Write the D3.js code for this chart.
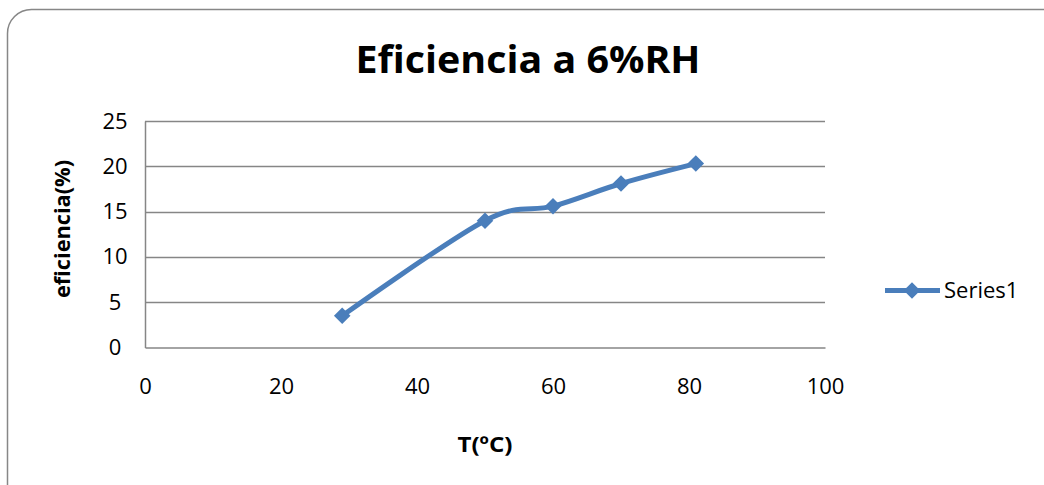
<!DOCTYPE html>
<html>
<head>
<meta charset="utf-8">
<script src="https://cdn.jsdelivr.net/npm/d3@7"></script>
<style>
  html, body { margin: 0; padding: 0; background: #fff; }
  svg { display: block; }
  text { font-family: "Open Sans", "Liberation Sans", sans-serif; fill: #000; }
</style>
</head>
<body>
<svg id="chart" width="1044" height="485"></svg>
<script>
// Efficiency vs temperature at 6% relative humidity
const temperatures = [29, 50, 60, 70, 81];
const efficiency = [3.5, 14, 15.6, 18.1, 20.3];
const xTicks = [0, 20, 40, 60, 80, 100];
const yTicks = [0, 5, 10, 15, 20, 25];
const seriesName = "Series1";
const titleText = "Eficiencia a 6%RH";
const xTitle = "T(ºC)";
const yTitle = "eficiencia(%)";

const svg = d3.select("#chart");
const lineColor = "#4a7ebb";
const gridColor = "#868686";

// outer chart frame with rounded corners
svg.append("rect")
  .attr("x", 7.5).attr("y", 9.5)
  .attr("width", 1060).attr("height", 500)
  .attr("rx", 24).attr("ry", 24)
  .attr("fill", "#fff")
  .attr("stroke", "#878787").attr("stroke-width", 1.5);

const plot = { left: 145, right: 825, top: 121, bottom: 347.5 };

const x = d3.scaleLinear().domain([0, 100]).range([plot.left, plot.right]);
const y = d3.scaleLinear().domain([0, 25]).range([plot.bottom, plot.top]);

// horizontal gridlines
svg.append("g")
  .selectAll("line")
  .data(yTicks.filter(d => d > 0))
  .join("line")
  .attr("x1", plot.left).attr("x2", plot.right)
  .attr("y1", d => Math.round(y(d)) + 0.5).attr("y2", d => Math.round(y(d)) + 0.5)
  .attr("stroke", gridColor).attr("stroke-width", 1.3);

// axes
const xAxis = svg.append("g")
  .attr("transform", `translate(0,${plot.bottom})`)
  .call(d3.axisBottom(x).tickValues(xTicks).tickSize(0).tickPadding(34));
const yAxis = svg.append("g")
  .attr("transform", `translate(${plot.left},0)`)
  .call(d3.axisLeft(y).tickValues(yTicks).tickSize(0).tickPadding(13));

[xAxis, yAxis].forEach(g => {
  g.select(".domain").attr("stroke", gridColor).attr("stroke-width", 1.5);
  g.selectAll("text")
    .attr("font-family", "'Open Sans', sans-serif")
    .attr("font-size", 22)
    .attr("fill", "#000");
});
xAxis.selectAll("text").attr("dy", "0.55em");
// value labels on the vertical axis sit centred in their column
yAxis.selectAll("text").attr("text-anchor", "middle").attr("x", -30);

// smoothed series line
const line = d3.line()
  .x((d, i) => x(temperatures[i]))
  .y(d => y(d))
  .curve(d3.curveCatmullRom.alpha(0));

svg.append("path")
  .datum(efficiency)
  .attr("d", line)
  .attr("fill", "none")
  .attr("stroke", lineColor)
  .attr("stroke-width", 5)
  .attr("stroke-linejoin", "round");

const diamond = d3.symbol().type(d3.symbolDiamond2).size(175);

svg.append("g")
  .selectAll("path")
  .data(efficiency)
  .join("path")
  .attr("d", diamond)
  .attr("transform", (d, i) => `translate(${x(temperatures[i])},${y(d)})`)
  .attr("fill", lineColor);

// titles
svg.append("text")
  .attr("x", 528).attr("y", 73)
  .attr("text-anchor", "middle")
  .attr("font-size", 38).attr("font-weight", "bold")
  .attr("textLength", 345).attr("lengthAdjust", "spacingAndGlyphs")
  .text(titleText);

svg.append("text")
  .attr("x", 485).attr("y", 452)
  .attr("text-anchor", "middle")
  .attr("font-size", 21).attr("font-weight", "bold")
  .attr("textLength", 55).attr("lengthAdjust", "spacingAndGlyphs")
  .text(xTitle);

svg.append("text")
  .attr("transform", "translate(70,229) rotate(-90)")
  .attr("text-anchor", "middle")
  .attr("font-size", 21).attr("font-weight", "bold")
  .attr("textLength", 138).attr("lengthAdjust", "spacingAndGlyphs")
  .text(yTitle);

// legend
const legend = svg.append("g").attr("transform", "translate(885,290.5)");
legend.append("line")
  .attr("x1", 0).attr("x2", 55)
  .attr("stroke", lineColor).attr("stroke-width", 5);
legend.append("path")
  .attr("d", diamond)
  .attr("transform", "translate(27,0)")
  .attr("fill", lineColor);
legend.append("text")
  .attr("x", 59).attr("y", 0)
  .attr("dy", "0.36em")
  .attr("font-size", 22)
  .text(seriesName);
</script>
</body>
</html>
